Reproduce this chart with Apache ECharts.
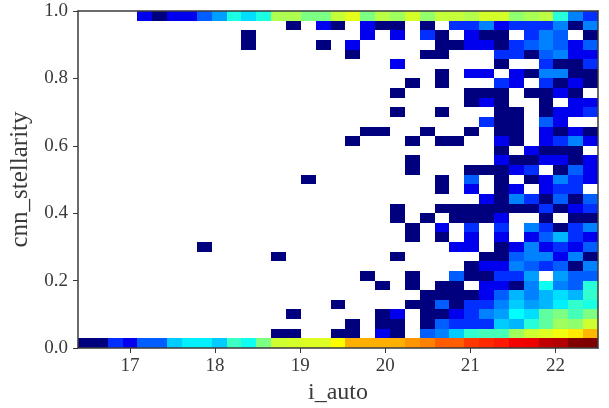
<!DOCTYPE html>
<html>
<head>
<meta charset="utf-8">
<style>html,body{margin:0;padding:0;background:#fff}#c{width:609px;height:408px}</style>
<script src="https://cdn.jsdelivr.net/npm/echarts@6/dist/echarts.min.js"></script>
</head>
<body>
<div id="c"></div>
<script>
const xMin = 16.39, xMax = 22.5, yMin = 0, yMax = 1, nBins = 35;
const xTicks = [17, 18, 19, 20, 21, 22];
const yTicks = [0, 0.2, 0.4, 0.6, 0.8, 1];
const maxCount = 600;
// counts per bin, bottom row first, 35 columns each
const r0  = [1,1,3,2,4,4,8,10,10,8,16,12,24,40,42,44,44, 55,90,90,90,90,105,120,150,150,190,210,230,290,300,400,430,590,600];
const r1  = [0,0,0,0,0,0,0,0,0,0,0,0,0,1,1,0,0, 1,1,0,2,1,0,4,5,8,15,17,17,30,40,44,50,62,85];
const r2  = [0,0,0,0,0,0,0,0,0,0,0,0,0,0,0,0,0, 0,1,0,1,1,0,1,4,3,3,3,8,7,14,20,30,27,40];
const r3  = [0,0,0,0,0,0,0,0,0,0,0,0,0,0,1,0,0, 0,0,0,1,2,0,1,1,2,3,5,6,11,9,20,24,17,24];
const r4  = [0,0,0,0,0,0,0,0,0,0,0,0,0,0,0,0,0, 1,0,0,0,0,1,1,4,1,3,3,5,8,6,7,10,15,13];
const r5  = [0,0,0,0,0,0,0,0,0,0,0,0,0,0,0,0,0, 0,0,0,0,0,0,1,1,1,1,2,4,7,5,7,9,7,15];
const r6  = [0,0,0,0,0,0,0,0,0,0,0,0,0,0,0,0,0, 0,0,0,1,0,1,0,1,1,0,2,2,1,5,12,5,4,14];
const r7  = [0,0,0,0,0,0,0,0,0,0,0,0,0,0,0,0,0, 0,0,1,0,0,1,0,0,4,1,1,3,3,6,0,6,4,4];
const r8  = [0,0,0,0,0,0,0,0,0,0,0,0,0,0,0,0,0, 0,0,0,0,0,0,0,0,0,1,2,2,5,4,3,4,1,5];
const r9  = [0,0,0,0,0,0,0,0,0,0,0,0,0,1,0,0,0, 0,0,0,0,1,0,0,0,0,0,1,1,4,5,5,2,5,1];
const r10 = [0,0,0,0,0,0,0,0,1,0,0,0,0,0,0,0,0, 0,0,0,0,0,0,0,0,2,2,0,1,2,5,2,3,2,4];
const r11 = [0,0,0,0,0,0,0,0,0,0,0,0,0,0,0,0,0, 0,0,0,0,0,1,0,1,0,2,0,2,0,2,4,7,3,2];
const r12 = [0,0,0,0,0,0,0,0,0,0,0,0,0,0,0,0,0, 0,0,0,0,0,1,0,2,0,3,0,3,0,5,3,1,3,5];
const r13 = [0,0,0,0,0,0,0,0,0,0,0,0,0,0,0,0,0, 0,0,0,0,1,0,1,0,1,1,1,2,0,0,1,0,1,1];
const r14 = [0,0,0,0,0,0,0,0,0,0,0,0,0,0,0,0,0, 0,0,0,0,1,0,0,1,1,1,1,1,1,1,3,1,2,3];
const r15 = [0,0,0,0,0,0,0,0,0,0,0,0,0,0,0,0,0, 0,0,0,0,0,0,0,0,0,0,2,1,5,3,1,4,1,4];
const r16 = [0,0,0,0,0,0,0,0,0,0,0,0,0,0,0,0,0, 0,0,0,0,0,0,0,1,0,2,0,1,2,0,2,3,3,0];
const r17 = [0,0,0,0,0,0,0,0,0,0,0,0,0,0,0,1,0, 0,0,0,0,0,0,0,1,0,4,0,1,0,1,2,5,3,2];
const r18 = [0,0,0,0,0,0,0,0,0,0,0,0,0,0,0,0,0, 0,0,0,0,0,1,0,0,0,1,1,1,2,3,0,1,4,2];
const r19 = [0,0,0,0,0,0,0,0,0,0,0,0,0,0,0,0,0, 0,0,0,0,0,1,0,0,0,0,0,2,1,1,2,2,1,2];
const r20 = [0,0,0,0,0,0,0,0,0,0,0,0,0,0,0,0,0, 0,0,0,0,0,0,0,0,0,0,0,1,0,2,1,1,1,0];
const r21 = [0,0,0,0,0,0,0,0,0,0,0,0,0,0,0,0,0, 0,1,0,0,0,1,0,1,1,0,0,2,1,0,2,3,5,2];
const r22 = [0,0,0,0,0,0,0,0,0,0,0,0,0,0,0,0,0, 0,0,1,1,0,0,1,0,0,1,0,1,1,0,2,1,2,1];
const r23 = [0,0,0,0,0,0,0,0,0,0,0,0,0,0,0,0,0, 0,0,0,0,0,0,0,0,0,0,3,1,1,0,4,2,0,0];
const r24 = [0,0,0,0,0,0,0,0,0,0,0,0,0,0,0,0,0, 0,0,0,0,1,0,0,1,0,0,0,1,1,0,1,2,2,3];
const r25 = [0,0,0,0,0,0,0,0,0,0,0,0,0,0,0,0,0, 0,0,0,0,0,0,0,0,0,1,2,1,0,0,1,0,2,2];
const r26 = [0,0,0,0,0,0,0,0,0,0,0,0,0,0,0,0,0, 0,0,0,0,1,0,0,0,0,1,1,1,0,1,1,2,1,0];
const r27 = [0,0,0,0,0,0,0,0,0,0,0,0,0,0,0,0,0, 0,0,0,0,0,1,0,1,0,0,0,3,2,0,3,1,2,1];
const r28 = [0,0,0,0,0,0,0,0,0,0,0,0,0,0,0,0,0, 0,0,0,0,0,0,0,1,0,2,2,0,2,1,5,5,1,1];
const r29 = [0,0,0,0,0,0,0,0,0,0,0,0,0,0,0,0,0, 0,0,0,0,2,0,0,0,0,0,0,1,0,0,3,1,1,3];
const r30 = [0,0,0,0,0,0,0,0,0,0,0,0,0,0,0,0,0, 0,1,0,0,0,0,1,1,0,0,0,3,3,1,4,5,2,2];
const r31 = [0,0,0,0,0,0,0,0,0,0,0,1,0,0,0,0,1, 0,2,0,0,0,0,0,1,1,2,2,1,3,4,5,4,2,4];
const r32 = [0,0,0,0,0,0,0,0,0,0,0,1,0,0,0,0,0, 0,0,2,0,2,0,3,1,0,2,1,1,0,3,5,4,0,1];
const r33 = [0,0,0,0,0,0,0,0,0,0,0,0,0,0,1,0,2, 1,0,2,1,1,0,1,0,3,3,5,2,3,3,3,5,1,5];
const r34 = [0,0,0,0,2,1,2,2,4,6,13,9,13,33,33,24,24, 38,46,24,35,30,42,28,38,38,34,42,42,27,32,36,14,5,3];
const rows = [r0,r1,r2,r3,r4,r5,r6,r7,r8,r9,r10,r11,r12,r13,r14,r15,r16,r17,r18,r19,r20,r21,r22,r23,r24,r25,r26,r27,r28,r29,r30,r31,r32,r33,r34];

const binW = (xMax - xMin) / nBins, binH = (yMax - yMin) / nBins;
const cells = [];
rows.forEach((row, r) => row.forEach((n, c) => {
  if (n > 0) cells.push([xMin + (c + 0.5) * binW, yMin + (r + 0.5) * binH, n, Math.log10(n)]);
}));

const serif = '"Liberation Serif", "DejaVu Serif", serif';
const ink = '#3a3a3a';
const chart = echarts.init(document.getElementById('c'), null, {renderer: 'canvas'});
chart.setOption({
  animation: false,
  backgroundColor: '#ffffff',
  grid: {left: 78, top: 11, width: 520, height: 337, containLabel: false, outerBoundsMode: 'none'},
  visualMap: {
    show: false, type: 'continuous', dimension: 3, seriesIndex: 0,
    min: 0, max: Math.log10(maxCount),
    inRange: {color: ['#00007f','#0000ff','#007fff','#00ffff','#7fff7f','#ffff00','#ff7f00','#ff0000','#7f0000']}
  },
  xAxis: [{
    type: 'value', min: xMin, max: xMax, position: 'bottom',
    name: 'i_auto', nameLocation: 'middle', nameGap: 32,
    nameTextStyle: {fontFamily: serif, fontSize: 24, color: ink},
    splitLine: {show: false}, z: 5,
    axisLine: {show: true, onZero: false, lineStyle: {color: ink, width: 1.5}},
    axisTick: {show: true, customValues: xTicks, length: 5, lineStyle: {color: ink, width: 1}},
    axisLabel: {show: true, customValues: xTicks, formatter: v => String(v), margin: 9, fontFamily: serif, fontSize: 19, color: ink}
  }, {
    type: 'value', min: xMin, max: xMax, position: 'top', z: 5,
    splitLine: {show: false}, axisTick: {show: false}, axisLabel: {show: false},
    axisLine: {show: true, onZero: false, lineStyle: {color: ink, width: 1.5}}
  }],
  yAxis: [{
    type: 'value', min: yMin, max: yMax, interval: 0.2, position: 'left',
    name: 'cnn_stellarity', nameLocation: 'middle', nameGap: 43,
    nameTextStyle: {fontFamily: serif, fontSize: 25, color: ink},
    splitLine: {show: false}, z: 5,
    axisLine: {show: true, onZero: false, lineStyle: {color: ink, width: 1.5}},
    axisTick: {show: true, length: 5, lineStyle: {color: ink, width: 1}},
    axisLabel: {show: true, formatter: v => v.toFixed(1), margin: 10, fontFamily: serif, fontSize: 19, color: ink}
  }, {
    type: 'value', min: yMin, max: yMax, position: 'right', z: 5,
    splitLine: {show: false}, axisTick: {show: false}, axisLabel: {show: false},
    axisLine: {show: true, onZero: false, lineStyle: {color: ink, width: 1.5}}
  }],
  series: [{
    type: 'custom',
    coordinateSystem: 'cartesian2d',
    xAxisIndex: 0, yAxisIndex: 0,
    clip: true,
    encode: {x: 0, y: 1},
    data: cells,
    renderItem: (params, api) => {
      const x = api.value(0), y = api.value(1);
      const p0 = api.coord([x - binW / 2, y + binH / 2]);
      const p1 = api.coord([x + binW / 2, y - binH / 2]);
      const left = Math.round(p0[0]), top = Math.round(p0[1]);
      return {
        type: 'rect',
        shape: {x: left, y: top, width: Math.round(p1[0]) - left, height: Math.round(p1[1]) - top},
        style: {fill: api.visual('color')}
      };
    }
  }]
});
</script>
</body>
</html>
